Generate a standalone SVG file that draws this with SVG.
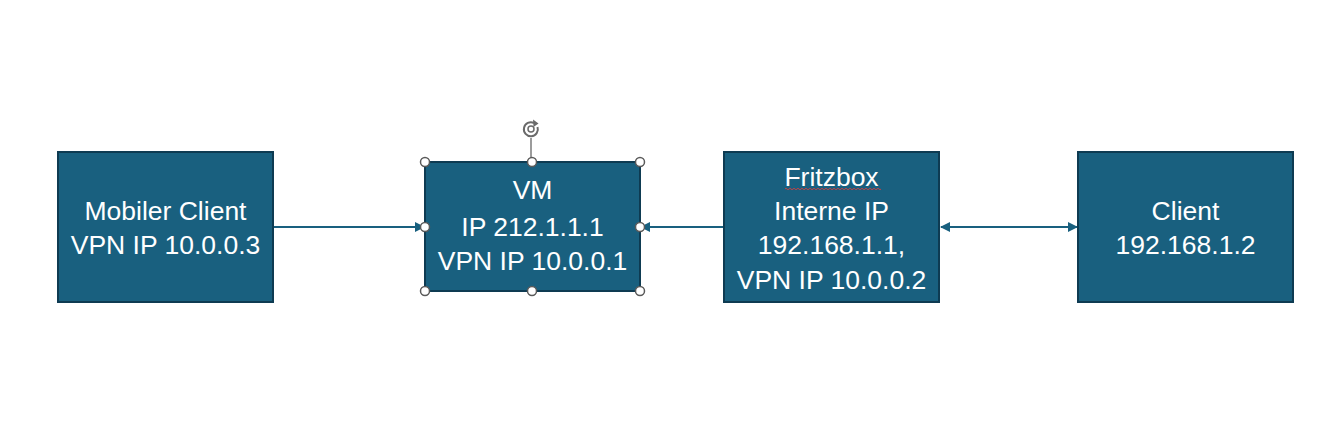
<svg xmlns="http://www.w3.org/2000/svg" width="1337" height="426" viewBox="0 0 1337 426">
<style>
.box{fill:#19607f;stroke:#0e3b52;stroke-width:2}
.t{font-family:"Liberation Sans",Arial,sans-serif;font-size:26.5px;fill:#ffffff;text-anchor:middle}
.c{stroke:#19607f;stroke-width:2;fill:none}
.h{fill:#ffffff;stroke:#5a5a5a;stroke-width:1.5}
</style>
<defs>
<marker id="ah" viewBox="0 0 10 10" refX="9" refY="5" markerWidth="5" markerHeight="5" orient="auto-start-reverse" markerUnits="strokeWidth">
<path d="M0,0 L10,5 L0,10 z" fill="#19607f"/>
</marker>
</defs>
<rect width="1337" height="426" fill="#ffffff"/>
<g id="connectors">
<line class="c" x1="274" y1="227" x2="424" y2="227" marker-end="url(#ah)"/>
<line class="c" x1="723" y1="227" x2="641" y2="227" marker-end="url(#ah)"/>
<line class="c" x1="941" y1="227" x2="1077" y2="227" marker-start="url(#ah)" marker-end="url(#ah)"/>
</g>
<g id="mobiler-client">
<rect class="box" x="58" y="152" width="215" height="150"/>
<text class="t" x="165.5" y="220">Mobiler Client</text>
<text class="t" x="165.5" y="254">VPN IP 10.0.0.3</text>
</g>
<g id="vm">
<rect class="box" x="425" y="162" width="215" height="129"/>
<text class="t" x="532.5" y="199">VM</text>
<text class="t" x="532.5" y="236">IP 212.1.1.1</text>
<text class="t" x="532.5" y="270">VPN IP 10.0.0.1</text>
<line x1="531" y1="138" x2="531" y2="162" stroke="#5a5a5a" stroke-width="1.2"/>
<path d="M537.5,127 A7,7 0 1 1 534,123" fill="none" stroke="#6a6a6a" stroke-width="2"/>
<path d="M533,119.5 L538.5,123.5 L533.5,127 z" fill="#6a6a6a"/>
<circle cx="531" cy="129" r="3" fill="none" stroke="#6a6a6a" stroke-width="1.5"/>
<circle class="h" cx="425" cy="162" r="4.5"/>
<circle class="h" cx="532" cy="162" r="4.5"/>
<circle class="h" cx="640" cy="162" r="4.5"/>
<circle class="h" cx="425" cy="227" r="4.5"/>
<circle class="h" cx="640" cy="227" r="4.5"/>
<circle class="h" cx="425" cy="291" r="4.5"/>
<circle class="h" cx="532" cy="291" r="4.5"/>
<circle class="h" cx="640" cy="291" r="4.5"/>
</g>
<g id="fritzbox">
<rect class="box" x="724" y="152" width="215" height="150"/>
<text class="t" x="831.5" y="186">Fritzbox</text>
<path d="M785,189 q1,-1.5 2,0 t2,0 t2,0 t2,0 t2,0 t2,0 t2,0 t2,0 t2,0 t2,0 t2,0 t2,0 t2,0 t2,0 t2,0 t2,0 t2,0 t2,0 t2,0 t2,0 t2,0 t2,0 t2,0 t2,0 t2,0 t2,0 t2,0 t2,0 t2,0 t2,0 t2,0 t2,0 t2,0 t2,0 t2,0 t2,0 t2,0 t2,0 t2,0 t2,0 t2,0 t2,0 t2,0 t2,0 t2,0 t2,0 t2,0 t2,0" fill="none" stroke="#d04040" stroke-width="0.9"/>
<text class="t" x="831.5" y="220">Interne IP</text>
<text class="t" x="831.5" y="254">192.168.1.1,</text>
<text class="t" x="831.5" y="289">VPN IP 10.0.0.2</text>
</g>
<g id="client">
<rect class="box" x="1078" y="152" width="215" height="150"/>
<text class="t" x="1185.5" y="220">Client</text>
<text class="t" x="1185.5" y="254">192.168.1.2</text>
</g>
</svg>
